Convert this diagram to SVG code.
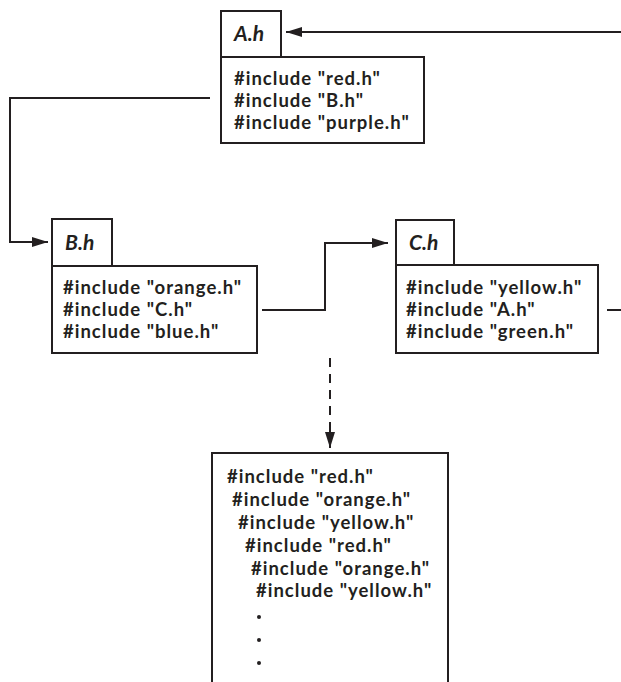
<svg xmlns="http://www.w3.org/2000/svg" width="621" height="682" viewBox="0 0 621 682">
<style>
.box{fill:#fff;stroke:#231f20;stroke-width:2}
.ln{fill:none;stroke:#231f20;stroke-width:2}
.t{font-family:Lato,"Open Sans",sans-serif;font-weight:700;font-size:18.5px;letter-spacing:1px;fill:#231f20}
.h{font-family:Lato,"Open Sans",sans-serif;font-weight:700;font-style:italic;font-size:21px;fill:#231f20}
</style>
<defs>
<marker id="ah" viewBox="0 0 16 10" refX="16" refY="5" markerWidth="16" markerHeight="10" markerUnits="userSpaceOnUse" orient="auto">
<path d="M0,0 L16,5 L0,10 Z" fill="#231f20"/>
</marker>
</defs>
<g id="connectors">
<path class="ln" d="M621,32 H286" marker-end="url(#ah)"/>
<path class="ln" d="M210,98 H10 V242 H48" marker-end="url(#ah)"/>
<path class="ln" d="M262,310 H325 V243 H388" marker-end="url(#ah)"/>
<path class="ln" d="M607,310 H621"/>
<path class="ln" d="M330,358 V432" stroke-dasharray="9,7"/>
<path class="ln" d="M330,430 V448" marker-end="url(#ah)"/>
</g>
<g id="A">
<rect class="box" x="221" y="11" width="60" height="46"/>
<rect class="box" x="221" y="57" width="203" height="86"/>
<text class="h" x="234" y="41">A.h</text>
<text class="t" x="234" y="85">#include "red.h"</text>
<text class="t" x="234" y="107">#include "B.h"</text>
<text class="t" x="234" y="129">#include "purple.h"</text>
</g>
<g id="B">
<rect class="box" x="52" y="219" width="60" height="47"/>
<rect class="box" x="52" y="266" width="205" height="87"/>
<text class="h" x="65" y="250">B.h</text>
<text class="t" x="63" y="294">#include "orange.h"</text>
<text class="t" x="63" y="316">#include "C.h"</text>
<text class="t" x="63" y="338">#include "blue.h"</text>
</g>
<g id="C">
<rect class="box" x="396" y="220" width="58" height="45"/>
<rect class="box" x="396" y="265" width="202" height="88"/>
<text class="h" x="409" y="250">C.h</text>
<text class="t" x="406" y="294">#include "yellow.h"</text>
<text class="t" x="406" y="316">#include "A.h"</text>
<text class="t" x="406" y="338">#include "green.h"</text>
</g>
<g id="result">
<rect class="box" x="212" y="453" width="236" height="260"/>
<text class="t" x="227" y="483">#include "red.h"</text>
<text class="t" x="232" y="506">#include "orange.h"</text>
<text class="t" x="238" y="529">#include "yellow.h"</text>
<text class="t" x="245" y="552">#include "red.h"</text>
<text class="t" x="251" y="575">#include "orange.h"</text>
<text class="t" x="256" y="597">#include "yellow.h"</text>
<circle cx="259" cy="617" r="2" fill="#231f20"/>
<circle cx="259" cy="640" r="2" fill="#231f20"/>
<circle cx="259" cy="663" r="2" fill="#231f20"/>
</g>
</svg>
